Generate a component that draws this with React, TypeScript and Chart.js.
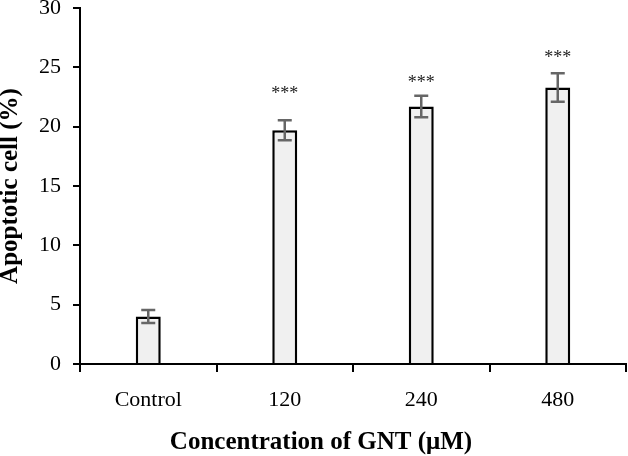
import React, { useEffect, useRef } from "react";
import { Chart, registerables } from "chart.js";

Chart.register(...registerables);

const categories = ["Control", "120", "240", "480"];
const apoptoticValues = [4.0, 19.7, 21.7, 23.3];
const errorValues = [0.55, 0.85, 0.9, 1.2];
const significance = ["", "***", "***", "***"];
const significanceY = [0, 23.0, 23.9, 26.0];
const yTicks = [0, 5, 10, 15, 20, 25, 30];
const xTitle = "Concentration of GNT (μM)";

const errorBarPlugin = {
  id: "errorBars",
  afterDatasetsDraw(chart: any) {
    const { ctx, scales } = chart;
    const meta = chart.getDatasetMeta(0);
    const yS = scales.y;
    ctx.save();
    meta.data.forEach((bar: any, i: number) => {
      const x = bar.x;
      const top = yS.getPixelForValue(apoptoticValues[i] + errorValues[i]);
      const bot = yS.getPixelForValue(apoptoticValues[i] - errorValues[i]);
      ctx.strokeStyle = "#666666";
      ctx.lineWidth = 2.5;
      ctx.beginPath();
      ctx.moveTo(x, top);
      ctx.lineTo(x, bot);
      ctx.moveTo(x - 7, top);
      ctx.lineTo(x + 7, top);
      ctx.moveTo(x - 7, bot);
      ctx.lineTo(x + 7, bot);
      ctx.stroke();
      if (significance[i]) {
        ctx.fillStyle = "#222222";
        ctx.font = "18px 'Liberation Serif'";
        ctx.textAlign = "center";
        ctx.textBaseline = "middle";
        ctx.fillText(significance[i], x, yS.getPixelForValue(significanceY[i]) + 3);
      }
    });
    // x-axis title, centred on the whole figure width
    ctx.fillStyle = "#000000";
    ctx.font = "bold 25px 'Liberation Serif'";
    ctx.textAlign = "center";
    ctx.textBaseline = "alphabetic";
    ctx.fillText(xTitle, chart.width / 2 + 7, chart.height - 7);
    ctx.restore();
  },
};

export default function App() {
  const ref = useRef<HTMLCanvasElement>(null);
  useEffect(() => {
    const chart = new Chart(ref.current!, {
      type: "bar",
      data: {
        labels: categories,
        datasets: [
          {
            data: apoptoticValues,
            backgroundColor: "#f0f0f0",
            borderColor: "#000000",
            borderWidth: 2.5,
            borderSkipped: "bottom",
            categoryPercentage: 1,
            barPercentage: 0.183,
          },
        ],
      },
      options: {
        animation: false,
        responsive: false,
        maintainAspectRatio: false,
        layout: { padding: { top: 8, right: 2, left: 0, bottom: 0 } },
        plugins: { legend: { display: false }, tooltip: { enabled: false } },
        scales: {
          x: {
            grid: {
              offset: true,
              drawOnChartArea: false,
              drawTicks: true,
              tickLength: 8,
              color: "#000000",
              lineWidth: 2,
            },
            border: { color: "#000000", width: 2 },
            ticks: {
              color: "#000000",
              padding: 17,
              font: { family: "'Liberation Serif'", size: 22, lineHeight: 1 },
              maxRotation: 0,
            },
            title: { display: false },
            afterFit(scale: any) {
              scale.height = 92;
              scale.paddingLeft = 0;
              scale.paddingRight = 0;
            },
          },
          y: {
            min: 0,
            max: 30,
            afterBuildTicks(scale: any) {
              scale.ticks = yTicks.map((v) => ({ value: v }));
            },
            grid: {
              drawOnChartArea: false,
              drawTicks: true,
              tickLength: 7,
              color: "#000000",
              lineWidth: 2,
            },
            border: { color: "#000000", width: 2 },
            ticks: {
              color: "#000000",
              padding: 12,
              font: { family: "'Liberation Serif'", size: 22, lineHeight: 1 },
            },
            title: {
              display: true,
              text: "Apoptotic cell (%)",
              color: "#000000",
              font: { family: "'Liberation Serif'", size: 25, weight: "bold", lineHeight: 0.8 },
              padding: { top: 1, bottom: 0 },
            },
            afterFit(scale: any) {
              scale.width = 80;
              scale.paddingTop = 0;
              scale.paddingBottom = 0;
            },
          },
        },
      },
      plugins: [errorBarPlugin],
    });
    return () => chart.destroy();
  }, []);
  return (
    <div style={{ position: "fixed", left: 0, top: 0, width: 628, height: 456, background: "#ffffff" }}>
      <canvas ref={ref} width={628} height={456} style={{ width: 628, height: 456 }} />
    </div>
  );
}
